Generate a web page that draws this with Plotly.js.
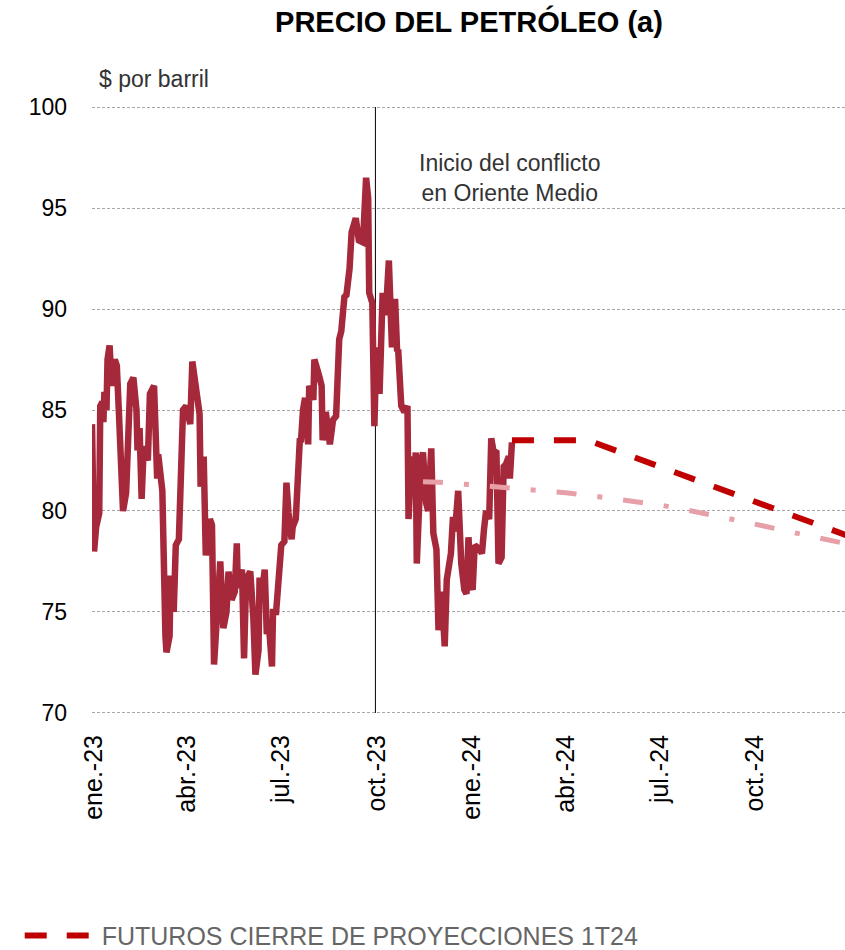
<!DOCTYPE html>
<html>
<head>
<meta charset="utf-8">
<script src="https://cdn.plot.ly/plotly-3.0.1.min.js"></script>
<style>html,body{margin:0;padding:0;background:#fff;}#chart{width:845px;height:950px;}</style>
</head>
<body>
<div id="chart"></div>
<script>
// Precio del Brent ($ por barril), lectura aproximada del gráfico
const priceDates = [
'2022-12-30','2023-01-01','2023-01-03','2023-01-06','2023-01-07','2023-01-09','2023-01-10','2023-01-11','2023-01-13','2023-01-14',
'2023-01-16','2023-01-18','2023-01-21','2023-01-23','2023-01-25','2023-01-29','2023-02-01','2023-02-03','2023-02-05','2023-02-08',
'2023-02-11','2023-02-12','2023-02-14','2023-02-16','2023-02-18','2023-02-22','2023-02-24','2023-02-28','2023-03-03','2023-03-04',
'2023-03-08','2023-03-11','2023-03-12','2023-03-15','2023-03-16','2023-03-19','2023-03-21','2023-03-24','2023-03-28','2023-03-31',
'2023-04-04','2023-04-06','2023-04-09','2023-04-13','2023-04-14','2023-04-17','2023-04-19','2023-04-23','2023-04-25','2023-04-27',
'2023-05-03','2023-05-06','2023-05-09','2023-05-11','2023-05-14','2023-05-17','2023-05-19','2023-05-20','2023-05-24','2023-05-26',
'2023-05-28','2023-06-01','2023-06-04','2023-06-06','2023-06-09','2023-06-10','2023-06-12','2023-06-15','2023-06-17','2023-06-19',
'2023-06-22','2023-06-23','2023-06-26','2023-06-29','2023-07-01','2023-07-04','2023-07-06','2023-07-08','2023-07-11','2023-07-12',
'2023-07-15','2023-07-17','2023-07-19','2023-07-20','2023-07-22','2023-07-24','2023-07-27','2023-07-28','2023-08-01','2023-08-02',
'2023-08-06','2023-08-09','2023-08-10','2023-08-13','2023-08-17','2023-08-20','2023-08-23','2023-08-26','2023-08-28','2023-08-31',
'2023-09-02','2023-09-05','2023-09-07','2023-09-11','2023-09-14','2023-09-18','2023-09-21','2023-09-23','2023-09-24','2023-09-27',
'2023-09-29','2023-10-01','2023-10-04','2023-10-07','2023-10-10','2023-10-13','2023-10-16','2023-10-19','2023-10-21','2023-10-22',
'2023-10-25','2023-10-28','2023-10-31','2023-11-01','2023-11-04','2023-11-06','2023-11-08','2023-11-09','2023-11-13','2023-11-15',
'2023-11-18','2023-11-20','2023-11-23','2023-11-25','2023-11-28','2023-11-30','2023-12-03','2023-12-06','2023-12-08','2023-12-12',
'2023-12-14','2023-12-16','2023-12-19','2023-12-22','2023-12-25','2023-12-27','2023-12-29','2023-12-31','2024-01-02','2024-01-04',
'2024-01-09','2024-01-11','2024-01-13','2024-01-15','2024-01-18','2024-01-20','2024-01-22','2024-01-25','2024-01-27','2024-01-30',
'2024-02-01','2024-02-03','2024-02-06','2024-02-07','2024-02-09'
];
const priceValues = [
84.3,78.0,79.2,79.9,85.2,85.4,84.4,85.9,85.0,87.5,
88.2,86.2,87.5,87.2,84.9,80.0,80.9,85.1,86.3,86.6,
85.0,83.0,84.1,80.6,83.2,82.5,85.8,86.2,81.6,82.8,
81.0,73.8,73.0,73.8,76.8,75.0,78.3,78.6,85.0,85.2,
84.3,87.4,86.3,84.8,81.2,82.7,77.8,79.6,79.3,72.4,
77.5,74.2,75.0,77.0,75.6,76.0,78.4,76.2,77.1,72.7,
76.6,77.0,74.7,71.9,73.1,76.7,75.8,77.1,73.9,74.4,
72.3,75.0,75.0,76.6,78.3,78.5,81.4,79.9,78.6,79.2,
79.6,81.6,83.6,83.4,85.0,85.6,83.3,86.2,85.5,87.5,
86.8,86.2,83.5,84.9,83.3,84.5,84.7,88.5,88.9,90.6,
90.7,92.0,93.8,94.5,93.4,93.3,96.5,95.5,90.8,90.3,
84.2,88.1,85.8,90.8,89.7,92.4,88.1,90.5,87.9,88.0,
85.2,84.9,85.2,79.6,82.7,81.2,82.9,77.4,82.4,82.9,
80.4,80.0,83.1,78.9,78.1,74.1,76.0,73.3,76.6,77.9,
79.7,79.0,81.0,77.4,76.1,75.9,78.7,76.4,76.1,78.3,
78.1,77.9,79.1,80.0,79.6,83.6,83.0,82.9,77.4,77.7,
82.2,82.3,82.7,81.6,83.4
];

// Futuros al cierre de proyecciones 1T24
const futDates = ['2024-02-09','2024-04-23','2024-05-01','2024-06-01','2024-07-01','2024-08-01','2024-09-01','2024-10-01','2024-11-01','2024-12-01','2024-12-31'];
const futValues = [83.5,83.5,83.34,82.76,82.2,81.61,81.03,80.47,79.89,79.33,78.75];

// Futuros de la proyección anterior
const prevDates = ['2023-11-15','2023-12-01','2024-01-01','2024-02-01','2024-03-01','2024-04-01','2024-05-01','2024-06-01','2024-07-01','2024-08-01','2024-09-01','2024-10-01','2024-11-01','2024-12-01','2024-12-31'];
const prevValues = [81.45,81.42,81.3,81.17,81.05,80.9,80.72,80.5,80.3,80.0,79.7,79.35,79.0,78.7,78.35];

const tickDates = ['2023-01-01','2023-04-01','2023-07-01','2023-10-01','2024-01-01','2024-04-01','2024-07-01','2024-10-01'];
const tickLabels = ['ene.-23','abr.-23','jul.-23','oct.-23','ene.-24','abr.-24','jul.-24','oct.-24'];
const yTicks = [70, 75, 80, 85, 90, 95, 100];

const conflictDate = '2023-09-30';
const conflictLabel = 'Inicio del conflicto<br>en Oriente Medio';
const legendLabel = 'FUTUROS CIERRE DE PROYECCIONES 1T24';

const FONT = 'Liberation Sans, Arial, Helvetica, sans-serif';

const traces = [
  {x: priceDates, y: priceValues, type: 'scatter', mode: 'lines', showlegend: false,
   line: {color: '#A5283B', width: 6.5, shape: 'linear'}},
  {x: prevDates, y: prevValues, type: 'scatter', mode: 'lines', showlegend: false,
   line: {color: '#E8A0A8', width: 5, dash: '20px,21px,5px,21px'}},
  {x: futDates, y: futValues, type: 'scatter', mode: 'lines', name: legendLabel,
   line: {color: '#C00000', width: 6, dash: '22px,20px'}}
];

const layout = {
  width: 845, height: 950,
  margin: {l: 92, r: 0, t: 104.7, b: 234.7, autoexpand: false},
  paper_bgcolor: '#ffffff', plot_bgcolor: '#ffffff',
  font: {family: FONT, color: '#000'},
  title: {text: '<b>PRECIO DEL PETRÓLEO (a)</b>', x: 0.555, xanchor: 'center', y: 0.977, yanchor: 'middle',
          font: {family: FONT, size: 29, color: '#000'}},
  xaxis: {type: 'date', range: ['2022-12-30', '2024-12-27'], tickmode: 'array', tickvals: tickDates, ticktext: tickLabels,
          tickangle: -90, showgrid: false, zeroline: false, showline: false, ticks: '', automargin: false,
          ticklabelstandoff: 14, tickfont: {family: FONT, size: 25, color: '#000'}},
  yaxis: {range: [69.9, 100.1], tickmode: 'array', tickvals: yTicks, showgrid: true, gridcolor: '#A6A6A6', griddash: '3px,2px', gridwidth: 1,
          zeroline: false, showline: false, ticks: '', ticklabelstandoff: 24, automargin: false,
          tickfont: {family: FONT, size: 23, color: '#000'}},
  shapes: [{type: 'line', xref: 'x', yref: 'y', x0: conflictDate, x1: conflictDate, y0: 70, y1: 100,
            line: {color: '#000', width: 1}, layer: 'below'}],
  annotations: [
    {text: conflictLabel, xref: 'x', yref: 'y', x: '2024-02-07', y: 96.5, showarrow: false,
     font: {family: FONT, size: 23, color: '#333'}, align: 'center'},
    {text: '$ por barril', xref: 'paper', yref: 'paper', x: 0.006, y: 1.043, xanchor: 'left', yanchor: 'middle',
     showarrow: false, font: {family: FONT, size: 23, color: '#333'}}
  ],
  showlegend: true,
  legend: {orientation: 'h', x: -0.096, xanchor: 'left', y: -0.362, yanchor: 'middle',
           font: {family: FONT, size: 25, color: '#666'},
           itemwidth: 72, bgcolor: 'rgba(0,0,0,0)'},
  hovermode: false
};

Plotly.newPlot('chart', traces, layout, {displayModeBar: false, staticPlot: true});
</script>
</body>
</html>
